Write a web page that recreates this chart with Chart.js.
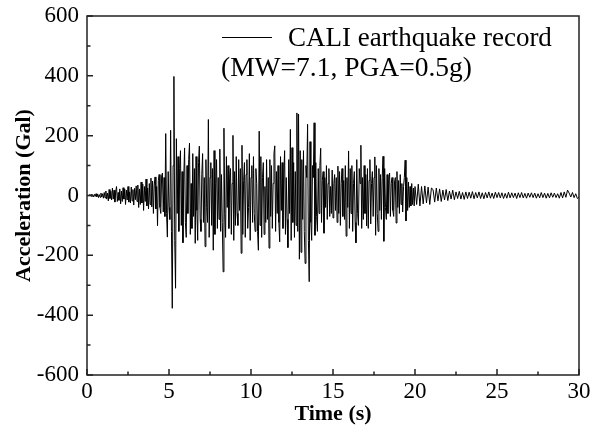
<!DOCTYPE html>
<html>
<head>
<meta charset="utf-8">
<script src="https://cdn.jsdelivr.net/npm/chart.js@4.4.1/dist/chart.umd.min.js"></script>
<style>
html,body{margin:0;padding:0;background:#fff;}
#wrap{width:592px;height:434px;}
</style>
</head>
<body>
<div id="wrap"><canvas id="c" width="592" height="434"></canvas></div>
<script>
// sampling intervals of the digitised record (s)
const fineStep = 0.05;   // 0 - 20 s
const codaStep = 0.1;    // 20 - 30 s
// acceleration (Gal)
const accelPre = [ // 0.00 - 5.00 s, every 0.05 s
  0, 1, -2, 3, -2, 4, -3, 2, -5, 4, -3, 6, -4, 5, -7, 3, -6, 8, -5, 6, -9,
  10, -8, 15, -12, 8, -18, 20, -10, 14, -15, 25, -12, 18, -22, 12, 30, -20, 10, -16, 22,
  -28, 15, -20, 26, -12, 22, -30, 18, -15, 30, -22, 12, -25, 28, -18, 20, -32, 24, -14, 32,
  -20, 35, -40, 22, -30, 45, -25, 38, -50, 30, -20, 55, -35, 25, -45, 40, -30, 58, -38, 48,
  -60, 35, 62, -45, 30, -101, 50, 70, -40, -60, 65, 75, -55, 60, -70, 207, -60, -139, 80, -40
];
const accelStrong = [ // 5.05 - 14.00 s, every 0.05 s
  -80, 218, -120, -377, 100, 398, -150, -310, 190, -60, 130, -120, 90, 150, -100, 80, -158, 60, 159, -90,
  -140, 100, -60, 120, 175, -130, 40, -110, 140, -70, 90, -160, 130, -50, -150, 110, 165, -80, -120, 70,
  140, -90, 60, -171, 120, -40, -90, 254, -140, 60, 110, -100, 90, -183, 150, -130, 40, 120, -110, 60,
  -80, 155, -120, 70, -90, -255, 225, -60, -140, 130, -40, 100, -110, 60, 90, -130, 40, 201, -150, 80,
  -100, 130, -60, -100, 120, -50, 90, -193, 168, -130, 50, 110, -140, 70, 120, -110, -40, 140, -150, 60,
  100, -90, 130, -60, -120, 90, 40, -120, -183, 215, -100, 130, -140, 60, 110, -130, 30, -90, 120, -80,
  60, -176, 120, -70, 100, -110, 40, 140, 166, -120, 80, -60, 100, -90, -155, 130, -50, 110, -110, 70,
  150, -130, 60, -80, -174, 120, -60, 221, -150, 160, -90, 110, -140, 80, -100, 276, -120, 272, -213, 150,
  -190, 120, -80, 150, -120, -227, 100, 60, 238, -150, -288, 180, -90, -150, 100, 60, 243, -133, 110, -70
];
const accelDecay = [ // 14.05 - 20.00 s, every 0.05 s
  -120, 90, -60, 100, 158, -90, 50, 80, -126, 60, -40, 100, -80, 40, 90, -70, 30, -60, 85, -75,
  40, 70, -50, 60, -90, 98, -60, 80, -100, 40, 90, -70, 50, -80, 100, -136, 60, -40, 149, -110,
  90, -60, 100, -120, 40, 80, -90, -158, 120, -60, -100, 90, 40, 168, -110, 60, -80, 100, -60, 70,
  -102, 90, -110, 50, 120, -95, 40, 80, -70, 60, 129, -133, 100, -60, -120, 90, -50, 70, -80, 60,
  131, -153, 90, -40, -80, 70, -60, 50, 75, -70, 40, 60, -50, -70, 45, 60, -92, 80, -40, 50,
  -60, 70, -30, 40, -55, 30, 60, 118, -85, 60, -50, 45, -40, 30, -35, 40, -30, 25, -35, 30
];
const accelCoda = [ // 20.1 - 30.0 s, every 0.1 s
  -30, 38, -35, 30, -28, 32, -25, 28, -30, 25,
  20, -22, 25, -18, 22, -20, 18, -15, 20, -17,
  15, -12, 18, -14, 12, -10, 14, -12, 10, -13,
  12, -10, 11, -9, 13, -11, 10, -8, 12, -10,
  9, -11, 10, -8, 12, -9, 8, -10, 11, -7,
  10, -8, 9, -10, 7, -9, 11, -8, 9, -7,
  8, -10, 9, -7, 10, -8, 7, -9, 8, -6,
  9, -7, 8, -9, 6, -8, 10, -7, 8, -9,
  7, -8, 9, -6, 8, -7, 6, -9, 10, -8,
  12, -6, 18, 8, -5, 10, -7, 6, -10, -5
];
const xTicks = [0, 5, 10, 15, 20, 25, 30];
const yTicks = [-600, -400, -200, 0, 200, 400, 600];
const legendLine1 = 'CALI earthquake record';
const legendLine2 = '(MW=7.1, PGA=0.5g)';

const fine = [].concat(accelPre, accelStrong, accelDecay);
const points = fine.map((v, i) => ({x: +(i * fineStep).toFixed(3), y: v}));
const fineEnd = (fine.length - 1) * fineStep;
accelCoda.forEach((v, i) => points.push({x: +(fineEnd + (i + 1) * codaStep).toFixed(3), y: v}));

const SERIF = '"Liberation Serif","Times New Roman",serif';

const framePlugin = {
  id: 'frame',
  afterDraw(chart) {
    const {ctx, chartArea: a, scales} = chart;
    ctx.save();
    ctx.strokeStyle = '#222';
    ctx.lineWidth = 1.5;
    ctx.beginPath();
    for (let v = 0; v <= 30; v += 2.5) {
      const px = scales.x.getPixelForValue(v);
      const len = (v % 5 === 0) ? 6 : 3.5;
      ctx.moveTo(px, a.bottom); ctx.lineTo(px, a.bottom - len);
    }
    for (let v = -600; v <= 600; v += 100) {
      const py = scales.y.getPixelForValue(v);
      const len = (v % 200 === 0) ? 6 : 3.5;
      ctx.moveTo(a.left, py); ctx.lineTo(a.left + len, py);
    }
    ctx.stroke();
    ctx.strokeRect(a.left, a.top, a.right - a.left, a.bottom - a.top);
    // legend
    ctx.strokeStyle = '#000';
    ctx.lineWidth = 1;
    ctx.beginPath();
    ctx.moveTo(222, 37.5); ctx.lineTo(272, 37.5);
    ctx.stroke();
    ctx.fillStyle = '#000';
    ctx.font = '27px ' + SERIF;
    ctx.textBaseline = 'middle';
    ctx.textAlign = 'left';
    ctx.fillText(legendLine1, 288, 39);
    ctx.font = '27.5px ' + SERIF;
    ctx.fillText(legendLine2, 221, 69);
    ctx.restore();
  }
};

new Chart(document.getElementById('c'), {
  type: 'line',
  data: {
    datasets: [{
      label: legendLine1,
      data: points,
      borderColor: '#000',
      borderWidth: 1,
      pointRadius: 0,
      tension: 0,
      fill: false
    }]
  },
  options: {
    responsive: false,
    animation: false,
    layout: {padding: {top: 16, right: 13, left: 0, bottom: 0}},
    plugins: {legend: {display: false}, tooltip: {enabled: false}},
    scales: {
      x: {
        type: 'linear', min: 0, max: 30,
        afterFit(s) { s.height = 59; s.paddingLeft = 0; s.paddingRight = 0; },
        afterBuildTicks(s) { s.ticks = xTicks.map(v => ({value: v})); },
        grid: {display: false, drawTicks: false},
        border: {display: false},
        ticks: {color: '#000', padding: 3, maxRotation: 0, font: {family: SERIF, size: 23}},
        title: {display: true, text: 'Time (s)', color: '#000', padding: {top: 0, bottom: 6},
                font: {family: SERIF, size: 22, weight: 'bold'}}
      },
      y: {
        type: 'linear', min: -600, max: 600,
        afterFit(s) { s.width = 87; s.paddingTop = 0; s.paddingBottom = 0; },
        afterBuildTicks(s) { s.ticks = yTicks.map(v => ({value: v})); },
        grid: {display: false, drawTicks: false},
        border: {display: false},
        ticks: {color: '#000', padding: 8, font: {family: SERIF, size: 23}},
        title: {display: true, text: 'Acceleration (Gal)', color: '#000', padding: {top: 11, bottom: 0},
                font: {family: SERIF, size: 22, weight: 'bold'}}
      }
    }
  },
  plugins: [framePlugin]
});
</script>
</body>
</html>
